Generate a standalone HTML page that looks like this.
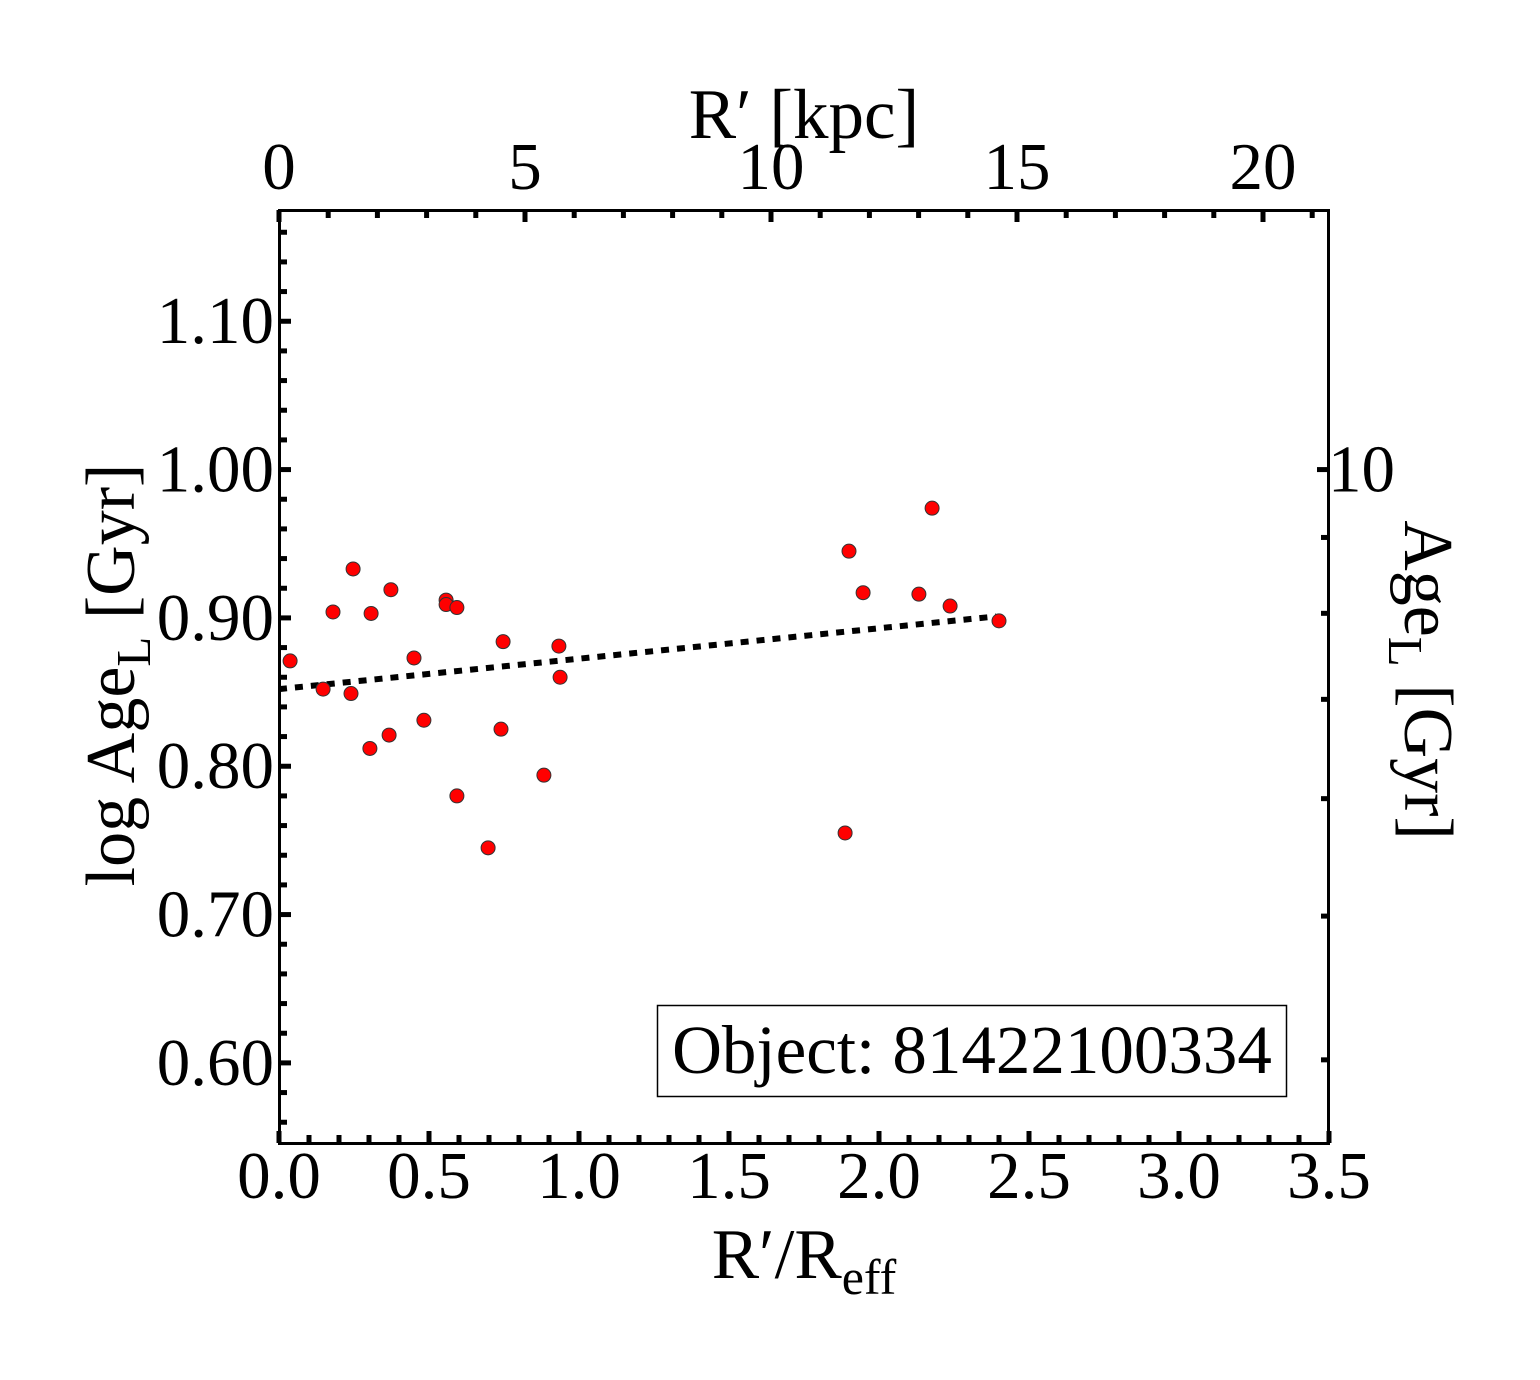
<!DOCTYPE html>
<html><head><meta charset="utf-8"><style>
body{margin:0;background:#fff;}
svg text{font-family:"Liberation Serif",serif;fill:#000;}
</style></head><body>
<svg id="chart" width="1540" height="1375" xmlns="http://www.w3.org/2000/svg">
<g id="ticks"></g>
<g id="fit"></g>
<g id="points"></g>
<rect x="279.5" y="210.5" width="1049" height="933" fill="none" stroke="#000" stroke-width="3"/>
<g>
<rect x="657.5" y="1005.5" width="629" height="91" fill="#fff" stroke="#000" stroke-width="1.5"/>
<text x="972" y="1073" font-size="69" text-anchor="middle">Object: 81422100334</text>
</g>
<text x="804" y="1278" font-size="71" text-anchor="middle">R′/R<tspan font-size="50" dy="16">eff</tspan></text>
<text x="804" y="138" font-size="71" text-anchor="middle">R′ [kpc]</text>
<text transform="translate(134,675) rotate(-90)" font-size="70" text-anchor="middle">log Age<tspan font-size="49" dy="16">L</tspan><tspan dy="-16"> [Gyr]</tspan></text>
<text transform="translate(1405,680) rotate(90)" font-size="70" text-anchor="middle">Age<tspan font-size="49" dy="16">L</tspan><tspan dy="-16"> [Gyr]</tspan></text>
</svg>
<script>
const xs=[0.037,0.147,0.18,0.24,0.247,0.307,0.303,0.367,0.373,0.45,0.483,0.557,0.557,0.593,0.593,0.697,0.747,0.74,0.883,0.933,0.937,1.90,1.887,1.947,2.133,2.177,2.237,2.40];
const ys=[0.871,0.852,0.904,0.849,0.933,0.903,0.812,0.821,0.919,0.873,0.831,0.912,0.909,0.907,0.780,0.745,0.884,0.825,0.794,0.881,0.860,0.945,0.755,0.917,0.916,0.974,0.908,0.898];
const fitX=[0,2.39];
const fitY=[0.852,0.901];
const xTicks=[0.0,0.5,1.0,1.5,2.0,2.5,3.0,3.5];
const xTickLabels=["0.0","0.5","1.0","1.5","2.0","2.5","3.0","3.5"];
const yTicks=[0.60,0.70,0.80,0.90,1.00,1.10];
const yTickLabels=["0.60","0.70","0.80","0.90","1.00","1.10"];
const kpcTicks=[0,5,10,15,20];
const kpcTickLabels=["0","5","10","15","20"];
const ageMinor=[4,5,6,7,8,9];
const ageMajor=[10];
const ageMajorLabels=["10"];
const X0=279,X1=1329,Y0=1143,Y1=210,XMIN=0,XMAX=3.5,YMIN=0.546,YMAX=1.175;
const KPC_PX=49.2;
function sx(v){return X0+(v-XMIN)/(XMAX-XMIN)*(X1-X0);}
function sy(v){return Y0-(v-YMIN)/(YMAX-YMIN)*(Y0-Y1);}
function skpc(v){return X0+v*KPC_PX;}
const NS="http://www.w3.org/2000/svg";
function mk(tag,attrs,parent){const e=document.createElementNS(NS,tag);for(const k in attrs)e.setAttribute(k,attrs[k]);parent.appendChild(e);return e;}
const tg=document.getElementById('ticks');
function line(x1,y1,x2,y2,w,name){const l=mk('line',{x1:x1,y1:y1,x2:x2,y2:y2,stroke:'#000','stroke-width':w},tg);

}
function label(x,y,t,anchor,name){const e=mk('text',{x:x,y:y,'font-size':67,'text-anchor':anchor},tg);e.textContent=t;

}
for(let v=0;v<=3.5001;v+=0.1){const x=sx(v);const maj=Math.abs(v*2-Math.round(v*2))<1e-6;line(x,Y0,x,Y0-(maj?12:8),5,'x-tick');}
xTicks.forEach((v,i)=>label(sx(v),1198,xTickLabels[i],'middle','x-tick-label'));
for(let k=0;k<=21;k++){const x=skpc(k);if(x>X1)break;const maj=k%5===0;line(x,Y1,x,Y1+(maj?12:8),5,'top-tick');}
kpcTicks.forEach((v,i)=>label(skpc(v),189,kpcTickLabels[i],'middle','top-tick-label'));
for(let v=0.56;v<=1.1701;v+=0.02){const y=sy(v);const maj=Math.abs(v*10-Math.round(v*10))<1e-6;line(X0,y,X0+(maj?12:8),y,5,'y-tick');}
yTicks.forEach((v,i)=>label(274,sy(v)+22,yTickLabels[i],'end','y-tick-label'));
ageMinor.forEach(a=>line(X1,sy(Math.log10(a)),X1-8,sy(Math.log10(a)),5,'right-tick'));
ageMajor.forEach((a,i)=>{line(X1,sy(Math.log10(a)),X1-12,sy(Math.log10(a)),5,'right-tick');label(1328,sy(Math.log10(a))+22,ageMajorLabels[i],'start','right-tick-label');});
const fl=mk('line',{x1:sx(fitX[0]),y1:sy(fitY[0]),x2:sx(fitX[1]),y2:sy(fitY[1]),stroke:'#000','stroke-width':6,'stroke-dasharray':'8 8'},document.getElementById('fit'));


const pg=document.getElementById('points');
xs.forEach((v,i)=>{const c=mk('circle',{cx:sx(v),cy:sy(ys[i]),r:7,fill:'#ff0000',stroke:'#333','stroke-width':1},pg);

});
</script>
</body></html>
